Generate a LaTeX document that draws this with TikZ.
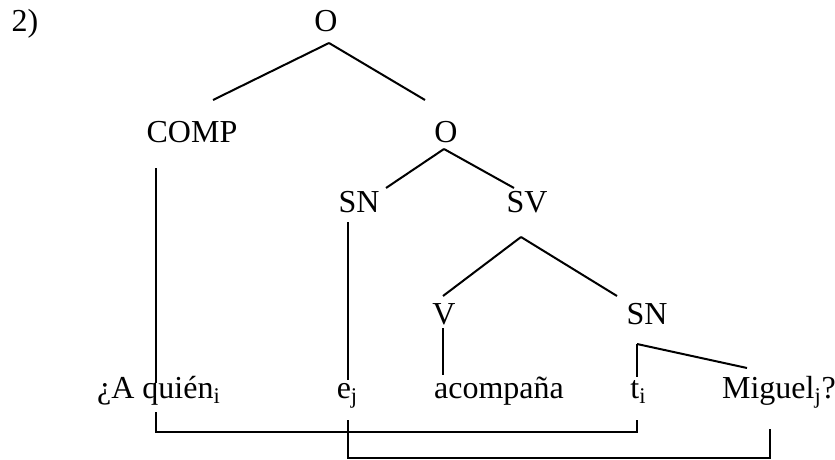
\documentclass[tikz,border=0pt]{standalone}
\usepackage{fontspec}
\setmainfont{Liberation Serif}
\usepackage{tikz}
\usetikzlibrary{calc}
\tikzstyle{cat}=[anchor=base, inner sep=0pt, text=black, font=\fontsize{16}{16}\selectfont]
\tikzstyle{word}=[anchor=base, inner sep=0pt, text=black, font=\fontsize{16}{16}\selectfont]
\tikzstyle{branch}=[draw=black, line width=1pt]
\newcommand{\idx}[1]{\textsubscript{#1}}

\begin{document}
\begin{tikzpicture}[x=0.5pt, y=-0.5pt]
        \useasboundingbox (0,0) rectangle (835,460);

        \node(num)[cat] at (25,32) {2)};

        \node(O)[cat] at (326,32) {O};
        \node(COMP)[cat] at (192,142) {COMP};
        \node(Obar)[cat] at (446,142) {O};
        \draw[branch] ($(O.base)+(3,11)$) -- ($(COMP.base)+(21,-42)$);
        \draw[branch] ($(O.base)+(3,11)$) -- ($(Obar.base)+(-21,-42)$);

        \node(SN)[cat] at (359,213) {SN};
        \node(SV)[cat] at (527,213) {SV};
        \draw[branch] ($(Obar.base)+(-2,7)$) -- ($(SN.base)+(27,-25)$);
        \draw[branch] ($(Obar.base)+(-2,7)$) -- ($(SV.base)+(-13,-25)$);

        \node(V)[cat] at (444,324) {V};
        \node(SNobj)[cat] at (647,324) {SN};
        \draw[branch] ($(SV.base)+(-6,24)$) -- ($(V.base)+(-1,-28)$);
        \draw[branch] ($(SV.base)+(-6,24)$) -- ($(SNobj.base)+(-30,-28)$);

        \node(quien)[word] at (159,398) {¿A quién\idx{i}};
        \node(ej)[word] at (347.5,398) {e\idx{j}};
        \node(acompana)[word] at (499,398) {acompaña};
        \node(ti)[word] at (638.5,398) {t\idx{i}};
        \node(miguel)[word] at (779,398) {Miguel\idx{j}?};

        \draw[branch] ($(COMP.base)+(-36,26)$) -- ($(quien.base)+(-3,-15)$);
        \draw[branch] ($(SN.base)+(-11,9)$) -- ($(ej.base)+(0.5,-18)$);
        \draw[branch] ($(V.base)+(-1,4)$) -- ($(acompana.base)+(-56,-23)$);
        \draw[branch] ($(SNobj.base)+(-10,20)$) -- ($(ti.base)+(-1.5,-21)$);
        \draw[branch] ($(SNobj.base)+(-10,20)$) -- ($(miguel.base)+(-32,-30)$);

        \draw[branch] ($(quien.base)+(-3,14)$) -- ++(0,20) -| ($(ti.base)+(-1.5,22)$);
        \draw[branch] ($(ej.base)+(0.5,22)$) -- ++(0,38) -| ($(miguel.base)+(-9,31)$);
\end{tikzpicture}
\end{document}
